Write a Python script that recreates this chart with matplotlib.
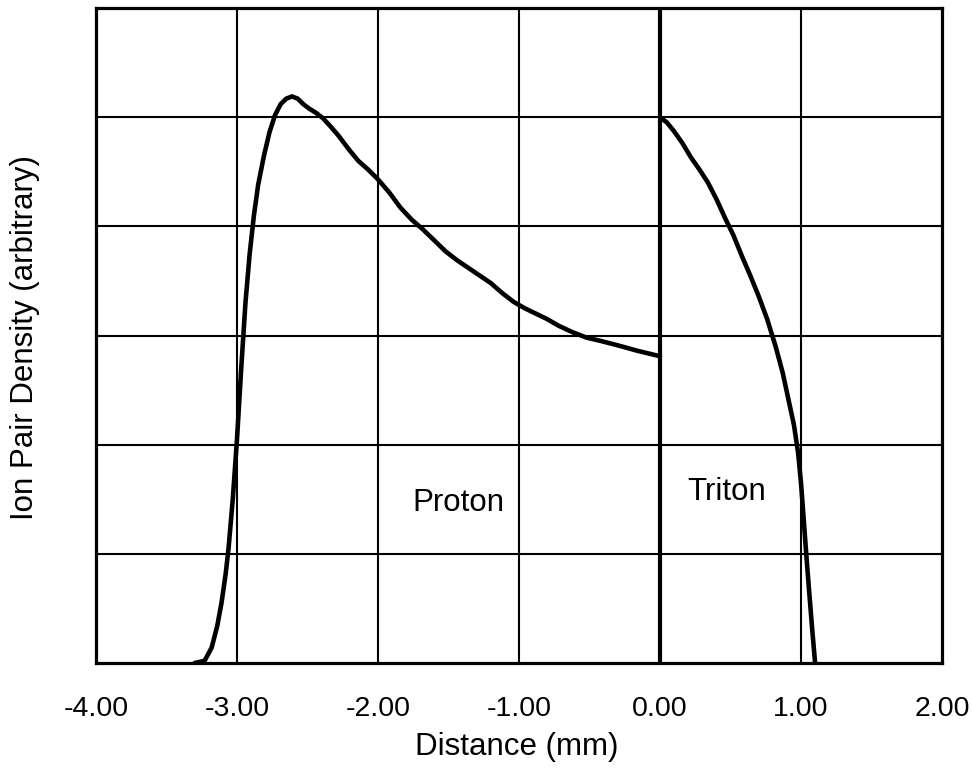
import numpy as np
import matplotlib
matplotlib.use("Agg")
import matplotlib.pyplot as plt

plt.rcParams['font.family'] = ['Liberation Sans', 'DejaVu Sans']

# proton track
proton_x = [-3.30, -3.23, -3.18, -3.14, -3.11, -3.08, -3.06, -3.03, -3.00, -2.97,
            -2.94, -2.91, -2.88, -2.85, -2.81, -2.77, -2.73, -2.69, -2.65, -2.61,
            -2.57, -2.53, -2.49, -2.44, -2.39, -2.34, -2.28, -2.21, -2.14, -2.07,
            -2.00, -1.92, -1.84, -1.76, -1.68, -1.60, -1.52, -1.44, -1.36, -1.28,
            -1.20, -1.12, -1.04, -0.96, -0.88, -0.80, -0.72, -0.62, -0.52, -0.42,
            -0.30, -0.16, 0.00]
proton_y = [0.00, 0.02, 0.14, 0.34, 0.55, 0.82, 1.05, 1.50, 2.05, 2.70,
            3.30, 3.75, 4.10, 4.38, 4.64, 4.86, 5.02, 5.12, 5.17, 5.19,
            5.17, 5.12, 5.08, 5.04, 4.99, 4.92, 4.83, 4.71, 4.60, 4.52,
            4.43, 4.31, 4.17, 4.06, 3.97, 3.87, 3.77, 3.69, 3.62, 3.55,
            3.48, 3.39, 3.31, 3.25, 3.20, 3.15, 3.09, 3.03, 2.98, 2.95,
            2.91, 2.86, 2.81]

# triton track
triton_x = [0.00, 0.05, 0.10, 0.16, 0.22, 0.28, 0.34, 0.40, 0.46, 0.52,
            0.58, 0.64, 0.70, 0.76, 0.82, 0.87, 0.91, 0.95, 0.98, 1.00,
            1.02, 1.04, 1.06, 1.08, 1.10]
triton_y = [5.00, 4.95, 4.87, 4.76, 4.63, 4.52, 4.40, 4.25, 4.08, 3.92,
            3.73, 3.55, 3.36, 3.15, 2.90, 2.66, 2.42, 2.18, 1.92, 1.65,
            1.30, 0.95, 0.62, 0.30, 0.00]

x_ticks = [-4, -3, -2, -1, 0, 1, 2]
y_grid = [1, 2, 3, 4, 5]

fig = plt.figure(figsize=(9.72, 7.82), dpi=100)
ax = fig.add_axes([96 / 972, 1 - 663 / 782, 846 / 972, 655 / 782])

for gx in x_ticks[1:-1]:
    ax.axvline(gx, color='black', lw=3.0 if gx == 0 else 1.5, zorder=1)
for gy in y_grid:
    ax.axhline(gy, color='black', lw=1.5, zorder=1)

ax.plot(proton_x, proton_y, color='black', lw=3.3, solid_capstyle='round',
        solid_joinstyle='round', zorder=3)
ax.plot(triton_x, triton_y, color='black', lw=3.3, solid_capstyle='round',
        solid_joinstyle='round', zorder=3)

ax.set_xlim(-4, 2)
ax.set_ylim(0, 6)
ax.set_xticks(x_ticks)
ax.set_xticklabels([f"{v:.2f}" for v in x_ticks], fontsize=20.5)
ax.set_yticks([])
ax.tick_params(axis='x', length=0, pad=24)
for s in ax.spines.values():
    s.set_linewidth(2.3)
    s.set_zorder(4)

ax.text(-1.43, 1.47, "Proton", fontsize=22.5, ha='center', va='center')
ax.text(0.47, 1.57, "Triton", fontsize=22.5, ha='center', va='center')

fig.text(517 / 972, 1 - 747 / 782, "Distance (mm)", fontsize=22.5,
         ha='center', va='center')
fig.text(25 / 972, 1 - 337 / 782, "Ion Pair Density (arbitrary)", fontsize=22.5,
         ha='center', va='center', rotation=90)

fig.savefig("out.png", dpi=100)
